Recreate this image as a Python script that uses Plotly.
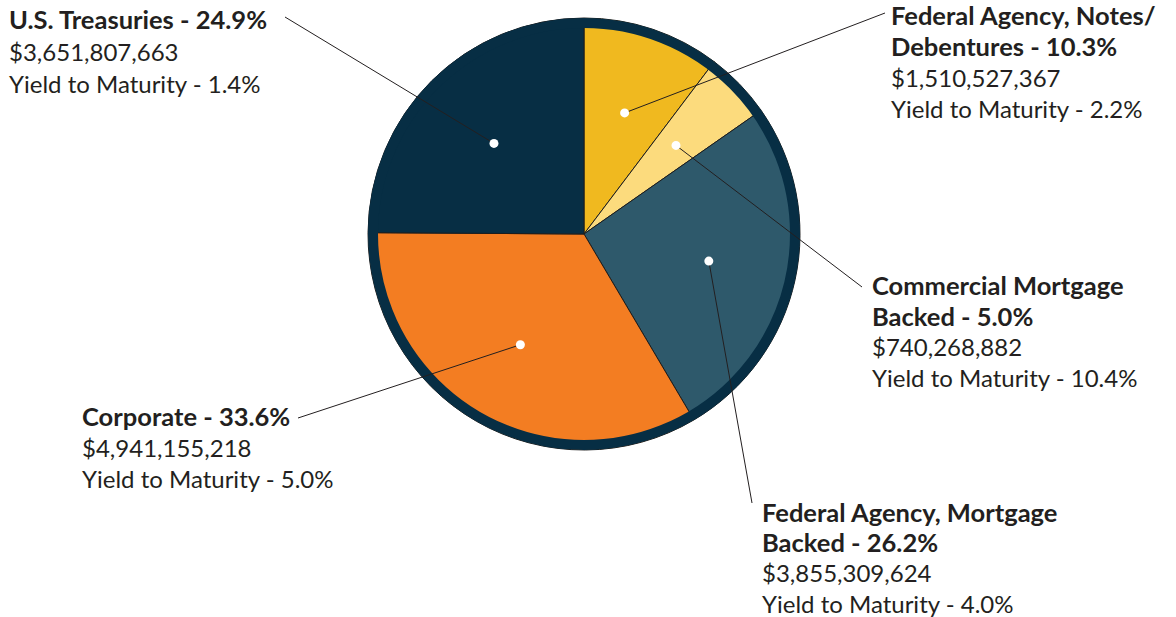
import math
import plotly.graph_objects as go

# Portfolio sectors, listed clockwise from 12 o'clock
sectors = [
    "Federal Agency, Notes/Debentures",
    "Commercial Mortgage Backed",
    "Federal Agency, Mortgage Backed",
    "Corporate",
    "U.S. Treasuries",
]
title_break_after = ["Notes/", "Mortgage", "Mortgage", None, None]
share_pct = [10.3, 5.0, 26.2, 33.6, 24.9]
market_value = [1510527367, 740268882, 3855309624, 4941155218, 3651807663]
yield_to_maturity = [2.2, 10.4, 4.0, 5.0, 1.4]
colors = ["#F0B91F", "#FCDB7D", "#2E596B", "#F37D22", "#072E44"]

# Label placement (pixels): left edge, first baseline, line pitch
label_left = [892, 873, 763, 83, 10]
label_base = [26, 296, 522.5, 427, 29.5]
label_pitch = [30.8, 30.6, 30.3, 31, 32.3]
leader_end = [(885, 13), (862, 287), (752, 503), (298, 418), (285, 17)]

W, H = 1176, 617
CX, CY, R = 584, 234, 216   # pie centre and outer radius in pixels
BORDER = 10
TEXT = "#231F20"
FONT = "Lato"
SIZE_BOLD, SIZE_REG = 25.5, 24
DESCENT = 0.213   # Lato descender, fraction of font size


def px(x):
    return x / W


def py(y):
    return 1 - y / H


fig = go.Figure(
    go.Pie(
        labels=sectors,
        values=share_pct,
        sort=False,
        direction="clockwise",
        rotation=0,
        marker=dict(colors=colors, line=dict(color="#1d1d1d", width=1)),
        textinfo="none",
        hoverinfo="label+percent",
        showlegend=False,
        domain=dict(x=[px(CX - R), px(CX + R)], y=[py(CY + R), py(CY - R)]),
    )
)

shapes = []
# navy rim around the pie
rr = R - BORDER / 2
shapes.append(dict(
    type="circle", xref="paper", yref="paper",
    x0=px(CX - rr), x1=px(CX + rr), y0=py(CY + rr), y1=py(CY - rr),
    line=dict(color="#072E44", width=BORDER), fillcolor="rgba(0,0,0,0)",
))

annotations = []
total = sum(share_pct)
start = 0.0
for i, name in enumerate(sectors):
    sweep = share_pct[i] / total * 360
    mid = math.radians(start + sweep / 2)
    start += sweep
    rd = (R - BORDER) * 0.62
    dx = CX + rd * math.sin(mid)
    dy = CY - rd * math.cos(mid)

    ex, ey = leader_end[i]
    shapes.append(dict(
        type="line", xref="paper", yref="paper",
        x0=px(dx), y0=py(dy), x1=px(ex), y1=py(ey),
        line=dict(color="#231F20", width=1),
    ))
    dr = 4.5
    shapes.append(dict(
        type="circle", xref="paper", yref="paper",
        x0=px(dx - dr), x1=px(dx + dr), y0=py(dy + dr), y1=py(dy - dr),
        line=dict(width=0), fillcolor="white",
    ))

    title = f"{name} - {share_pct[i]:.1f}%"
    brk = title_break_after[i]
    if brk:
        head, tail = title.split(brk, 1)
        lines = [(head + brk, True), (tail.strip(), True)]
    else:
        lines = [(title, True)]
    lines += [(f"${market_value[i]:,}", False),
              (f"Yield to Maturity - {yield_to_maturity[i]:.1f}%", False)]

    for k, (txt, bold) in enumerate(lines):
        size = SIZE_BOLD if bold else SIZE_REG
        base = label_base[i] + k * label_pitch[i]
        annotations.append(dict(
            x=px(label_left[i] - 3), y=py(base + 1 + DESCENT * size),
            xref="paper", yref="paper",
            xanchor="left", yanchor="bottom", align="left",
            showarrow=False, text=f"<b>{txt}</b>" if bold else txt,
            font=dict(family=FONT, size=size, color=TEXT),
        ))

fig.update_layout(
    width=W, height=H,
    margin=dict(l=0, r=0, t=0, b=0),
    paper_bgcolor="white", plot_bgcolor="white",
    shapes=shapes, annotations=annotations,
)

fig.write_html("out.html")
